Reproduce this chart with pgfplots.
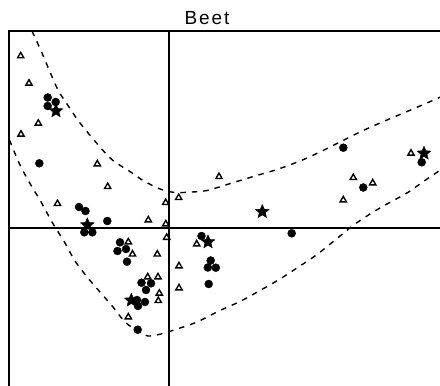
\documentclass[border=0pt]{standalone}
\usepackage{fontspec}
\setmainfont{Liberation Sans}
\usepackage{pgfplots}
\pgfplotsset{compat=1.18}

% filled five-pointed star
\pgfdeclareplotmark{fstar}{%
  \pgfpathmoveto{\pgfpointpolar{90}{\pgfplotmarksize}}%
  \pgfpathlineto{\pgfpointpolar{126}{0.45\pgfplotmarksize}}%
  \pgfpathlineto{\pgfpointpolar{162}{\pgfplotmarksize}}%
  \pgfpathlineto{\pgfpointpolar{198}{0.45\pgfplotmarksize}}%
  \pgfpathlineto{\pgfpointpolar{234}{\pgfplotmarksize}}%
  \pgfpathlineto{\pgfpointpolar{270}{0.45\pgfplotmarksize}}%
  \pgfpathlineto{\pgfpointpolar{306}{\pgfplotmarksize}}%
  \pgfpathlineto{\pgfpointpolar{342}{0.45\pgfplotmarksize}}%
  \pgfpathlineto{\pgfpointpolar{18}{\pgfplotmarksize}}%
  \pgfpathlineto{\pgfpointpolar{54}{0.45\pgfplotmarksize}}%
  \pgfpathclose
  \pgfusepathqfillstroke
}

\begin{document}
\begin{tikzpicture}
\useasboundingbox (-169pt,-158.5pt) rectangle (271pt,227.5pt);
\clip (-169pt,-158.5pt) rectangle (271pt,227.5pt);
\begin{axis}[
  anchor=origin, at={(0pt,0pt)},
  x=1pt, y=1pt,
  xmin=-159.5, xmax=300, ymin=-175, ymax=196.5,
  hide axis, clip=false,
]
% frame (left and top) and the two zero lines
\addplot[black, line width=2pt, line cap=rect, line join=miter]
  coordinates {(-159.5,-175) (-159.5,196.5) (300,196.5)};
\addplot[black, line width=2pt] coordinates {(0,-175) (0,196.5)};
\addplot[black, line width=2pt] coordinates {(-159.5,0) (300,0)};

% confidence envelope
\addplot[black, line width=1.4pt, dash pattern=on 5.5pt off 6pt, smooth, tension=0.5]
  coordinates {
  (-137,196.5) (-127,174.5) (-119,155.5) (-111,137.5) (-102,123.5)
  (-89,104.5) (-69,80.5) (-56,67) (-36,54) (-26,47)
  (-9,38.5) (6,35) (23,35.5) (38,37) (63,44.5) (86,51.5)
  (108,58) (131,66.5) (151,75.5) (171,85.5) (191,95.5)
  (211,104.5) (231,113) (251,121.5) (275,132)};
\addplot[black, line width=1.4pt, dash pattern=on 5.5pt off 6pt, smooth, tension=0.5]
  coordinates {
  (-159.5,87.5) (-149,62.5) (-137,40.5) (-129,27.5) (-117,5.5)
  (-104,-15.5) (-94,-33.5) (-81,-50.5) (-69,-64.5) (-56,-79.5)
  (-44,-94.5) (-32,-103) (-21,-108.5) (-6,-106) (8,-101.5)
  (28,-94.5) (51,-83) (71,-74) (91,-63) (111,-51.5)
  (131,-38.5) (148,-27) (168,-11) (184,2) (201,13.5)
  (218,23.5) (238,34.5) (253,45) (275,60)};

% triangles
\addplot[only marks, mark=triangle, mark size=3.6pt,
  mark options={line width=1.4pt, fill=white, draw=black}]
  coordinates {
  (-148.3,171.5) (-140,144.2) (-130.7,104.2) (-148,93.2) (-71.7,63.5)
  (-61.3,40.8) (-111.5,23.8) (-3.3,24.8) (9.7,29.8) (-20.7,7.5)
  (-3.2,3.5) (-2.3,-10) (-40.7,-14.5) (-36.5,-26.7) (-11.7,-26.7)
  (10,-38.5) (-21.3,-49.5) (-11,-49.5) (10,-60.5) (-9.7,-65.8)
  (-10.7,-73.2) (-40.7,-89.5) (27.7,-16.5) (50,50.8) (174.3,27.5)
  (184.3,49.8) (203.7,44.5) (242,74.2)};

% filled circles
\addplot[only marks, mark=*, mark size=4pt, mark options={fill=black, draw=black}]
  coordinates {
  (-121.3,130) (-113.3,125.5) (-121.3,121.5) (-129.7,64.2) (-90,20.5)
  (-83.5,16.5) (-61.7,6.5) (-84.7,-4.8) (-76.7,-4.8) (-49,-14.8)
  (-43,-21.5) (-51.5,-23.5) (-42,-34.2) (-27.5,-55.2) (-18,-55.8)
  (-23,-62.5) (-32,-72.5) (-24,-74.5) (-31,-78.5) (-31.3,-102.2)
  (32.5,-8.5) (41.7,-33) (38.8,-40) (46.8,-40.2) (39.7,-56.5)
  (122.7,-5.8) (174.3,79.8) (194.3,40) (252.7,65.2)};

% stars
\addplot[only marks, mark=fstar, mark size=7.2pt, mark options={fill=black, draw=black, line width=0.4pt}]
  coordinates {
  (-113,116.5) (-81.7,2.5) (-37.7,-72.8) (39,-14.5) (93.3,15.8) (255,74.2)};
\end{axis}
\node[anchor=base, inner sep=0pt] at (38pt,202.5pt)
  {\fontsize{19}{21}\selectfont\addfontfeature{LetterSpace=10}Beet};
\end{tikzpicture}
\end{document}
